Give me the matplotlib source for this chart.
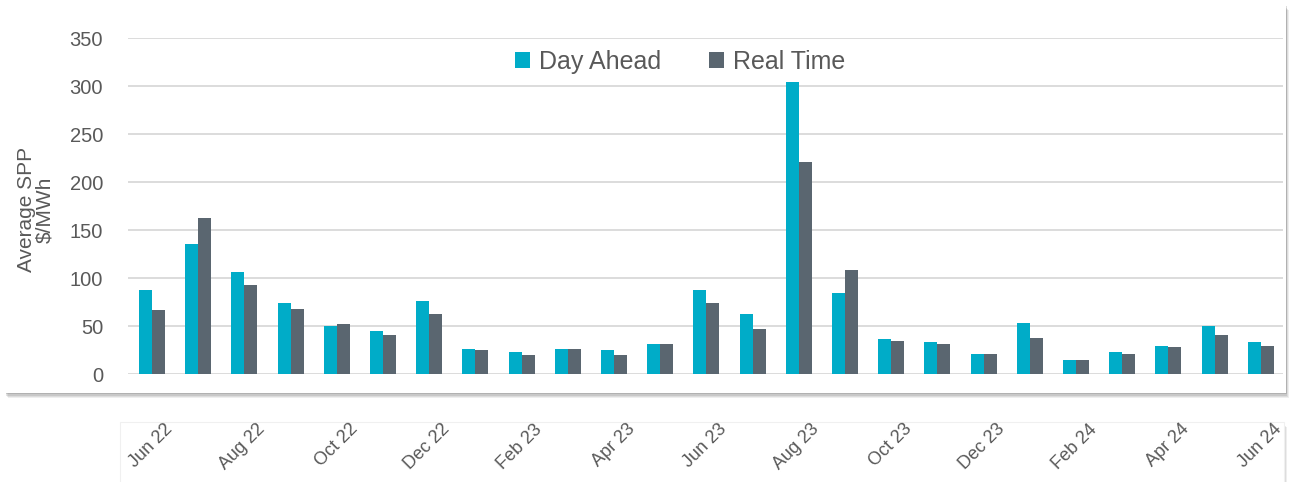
import numpy as np
import matplotlib
matplotlib.use("Agg")
import matplotlib.pyplot as plt
from matplotlib.patches import Rectangle
from matplotlib.transforms import ScaledTranslation

plt.rcParams['font.family'] = ['Liberation Sans', 'DejaVu Sans']

months = ["Jun 22", "Jul 22", "Aug 22", "Sep 22", "Oct 22", "Nov 22", "Dec 22",
          "Jan 23", "Feb 23", "Mar 23", "Apr 23", "May 23", "Jun 23", "Jul 23",
          "Aug 23", "Sep 23", "Oct 23", "Nov 23", "Dec 23", "Jan 24", "Feb 24",
          "Mar 24", "Apr 24", "May 24", "Jun 24"]
day_ahead = [88, 135, 106, 74, 50, 45, 76, 26, 23, 26, 25, 31, 87, 63,
             304, 84, 36, 33, 21, 53, 15, 23, 29, 50, 33]
real_time = [67, 163, 93, 68, 52, 41, 63, 25, 20, 26, 20, 31, 74, 47,
             221, 108, 34, 31, 21, 37, 15, 21, 28, 41, 29]
yticks = [0, 50, 100, 150, 200, 250, 300, 350]

teal = "#00ACC8"
slate = "#5A6670"
txt = "#595959"

W, H = 1291, 482
fig = plt.figure(figsize=(W / 100, H / 100), dpi=100)
fig.patch.set_facecolor("white")


def panel(x0, y0, x1, y1, shadow=True, edge="none"):
    # white card with a soft drop shadow, given in pixel coords from top-left
    fx, fy = x0 / W, (H - y1) / H
    fw, fh = (x1 - x0) / W, (y1 - y0) / H
    if shadow:
        for i, a in enumerate([0.10, 0.12, 0.16, 0.22]):
            d = (4 - i) * 1.3
            fig.patches.append(Rectangle((fx + d / W * 0.5, fy - d / H), fw, fh,
                                         transform=fig.transFigure, facecolor="#606060",
                                         edgecolor="none", alpha=a, zorder=-20 + i))
    fig.patches.append(Rectangle((fx, fy), fw, fh, transform=fig.transFigure,
                                 facecolor="white", edgecolor=edge, lw=0.8, zorder=-10))


panel(5, 5, 1286, 393)
panel(120, 422, 1284, 490, shadow=True, edge="#F0F0F0")

ax = fig.add_axes([128 / W, (H - 374) / H, 1155 / W, 336 / H])
ax.set_zorder(5)
ax.patch.set_visible(False)

x = np.arange(len(months))
bw = 0.28
ax.bar(x - bw / 2, day_ahead, bw, color=teal, label="Day Ahead", zorder=3)
ax.bar(x + bw / 2, real_time, bw, color=slate, label="Real Time", zorder=3)

ax.set_xlim(-0.52, len(months) - 0.52)
ax.set_ylim(0, 350)
ax.set_yticks(yticks)
ax.yaxis.grid(True, color="#D9D9D9", lw=1.3, zorder=0)
ax.set_axisbelow(True)
for s in ax.spines.values():
    s.set_visible(False)
ax.tick_params(axis="y", length=0, pad=18, labelsize=14.5, labelcolor=txt)

ax.set_xticks(x[::2])
ax.set_xticklabels(months[::2], rotation=45, ha="right", va="center",
                   rotation_mode="anchor", fontsize=13, color=txt)
ax.tick_params(axis="x", length=0, pad=38)
shift = ScaledTranslation(18 / 100, 0, fig.dpi_scale_trans)
for lab in ax.get_xticklabels():
    lab.set_transform(lab.get_transform() + shift)

ax.set_ylabel("Average SPP\n$/MWh", fontsize=15, color=txt, linespacing=0.95)
ax.yaxis.set_label_coords(-0.064, 0.49)

ax.legend(loc="center", bbox_to_anchor=(0.478, 0.93), ncol=2, frameon=False,
          fontsize=18, labelcolor=txt, handlelength=0.6, handleheight=0.6,
          handletextpad=0.35, columnspacing=1.9)

fig.savefig("out.png", dpi=100, facecolor="white")
